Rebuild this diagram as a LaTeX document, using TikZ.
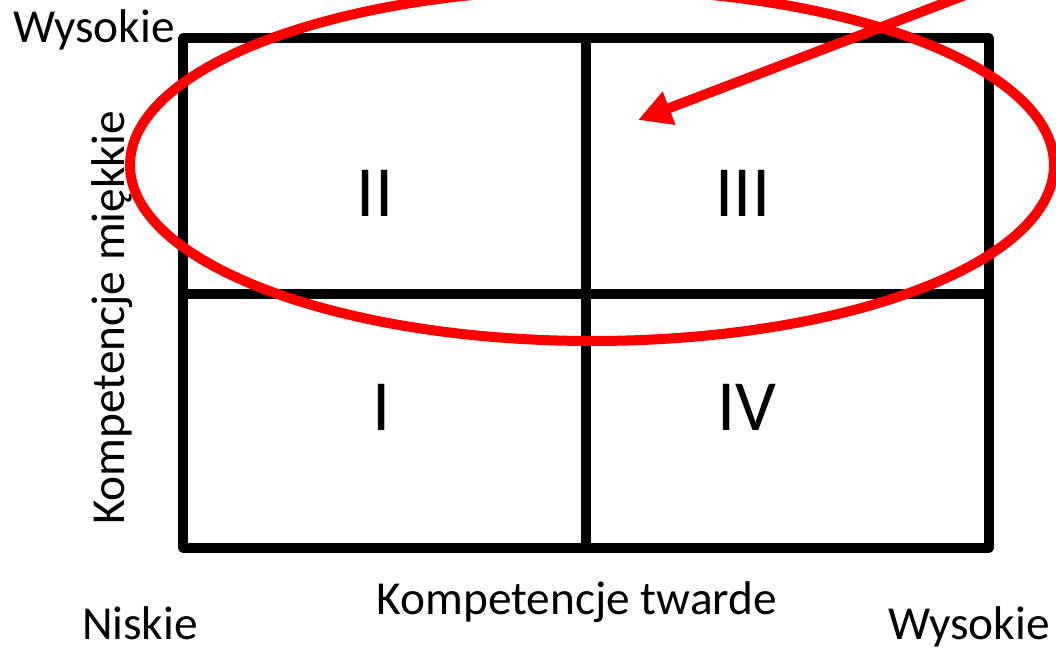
\documentclass[tikz,border=0pt]{standalone}
\usepackage{fontspec}
\setmainfont{Carlito}
\usetikzlibrary{arrows.meta}
\definecolor{pptred}{RGB}{255,0,0}
\tikzset{
  gridline/.style={line width=7pt, line join=round, line cap=rect, black},
  loopline/.style={line width=7.5pt, pptred},
  pointer/.style={line width=7.5pt, pptred, -{Triangle[length=25pt,width=25pt]}},
  axislabel/.style={font=\fontsize{35.5}{42}\selectfont, inner sep=0pt, anchor=base},
  quadlabel/.style={font=\fontsize{54}{64}\selectfont, inner sep=0pt, anchor=base},
}
\begin{document}
\begin{tikzpicture}[x=0.75pt,y=-0.75pt]
\useasboundingbox (0,0) rectangle (1056,648);
\clip (0,0) rectangle (1056,648);
% grid
\coordinate (tl) at (183,38);
\coordinate (br) at (989,548);
\draw[gridline] (tl) rectangle (br);
\coordinate (vt) at (586,38);
\coordinate (vb) at (586,548);
\coordinate (hl) at (183,294);
\coordinate (hr) at (989,294);
\draw[gridline] (vt) -- (vb);
\draw[gridline] (hl) -- (hr);
% quadrant labels
\node[quadlabel] (q2) at (375,217) {II};
\node[quadlabel] (q3) at (743,217) {III};
\node[quadlabel] (q1) at (382,430) {I};
\node[quadlabel] (q4) at (747,430) {IV};
% axis labels
\node[axislabel] (yhigh) at (94,43) {Wysokie};
\node[axislabel,rotate=90] (ylab) at (124,318) {Kompetencje miękkie};
\node[axislabel] (xlab) at (577,614) {Kompetencje twarde};
\node[axislabel] (xlow) at (140,639) {Niskie};
\node[axislabel] (xhigh) at (969,639) {Wysokie};
% red ellipse
\coordinate (ec) at (592,165);
\draw[loopline] (ec) ellipse [x radius=346.5pt, y radius=132pt];
% red arrow
\coordinate (arrowstart) at (1023,-27);
\coordinate (arrowtip) at (638,120);
\draw[pointer] (arrowstart) -- (arrowtip);
\end{tikzpicture}
\end{document}
